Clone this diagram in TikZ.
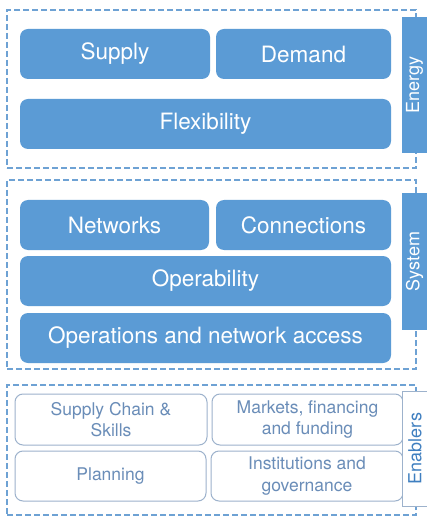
\documentclass[tikz,border=0pt]{standalone}
\usepackage{fontspec}
\setmainfont{TeX Gyre Heros}
\usetikzlibrary{shapes}

\definecolor{boxblue}{HTML}{5B9BD5}
\definecolor{dashblue}{HTML}{6EA2D4}
\definecolor{softline}{HTML}{9DB2CC}
\definecolor{softtext}{HTML}{6A8DB8}
\definecolor{tabtext}{HTML}{3F7FC0}

\begin{document}
\begin{tikzpicture}[x=1pt,y=-1pt]

\def\boxh{50pt}
\def\tabw{25pt}

\tikzstyle{frame}=[rectangle,draw=dashblue,line width=2.5pt,dash pattern=on 6pt off 3pt,inner sep=0pt]
\tikzstyle{block}=[rectangle,rounded corners=8pt,fill=boxblue,text=white,minimum height=\boxh,inner sep=0pt,font=\fontsize{22.5}{26}\selectfont]
\tikzstyle{tab}=[rectangle,fill=boxblue,text=white,rotate=90,minimum height=\tabw,inner sep=0pt,font=\fontsize{18}{21}\selectfont]
\tikzstyle{enabler}=[rectangle,rounded corners=8pt,draw=softline,line width=1pt,fill=white,text=softtext,minimum height=\boxh,inner sep=0pt,align=center,font=\fontsize{17.5}{21.5}\selectfont]
\tikzstyle{enablertab}=[tab,fill=white,draw=softline,line width=1pt,text=tabtext]

\useasboundingbox[fill=white] (0,0) rectangle (426,518);

%frames
\node[frame,minimum width=409pt,minimum height=158pt] (energyframe) at (211.5,89) {};
\node[frame,minimum width=409pt,minimum height=189pt] (systemframe) at (211.5,274.5) {};
\node[frame,minimum width=409pt,minimum height=130pt] (enablersframe) at (211.5,450) {};

%energy
\node[block,minimum width=190pt] (supply) at (115,54) {Supply};
\node[block,minimum width=175pt] (demand) at (303.5,54) {Demand};
\node[block,minimum width=371pt] (flex) at (205.5,124) {Flexibility};
\node[tab,minimum width=136pt] (energy) at (414.5,85) {Energy};

%system
\node[block,minimum width=189pt] (networks) at (114.5,225) {Networks};
\node[block,minimum width=175pt] (connections) at (303.5,225) {Connections};
\node[block,minimum width=371pt] (operability) at (205.5,281) {Operability};
\node[block,minimum width=371pt] (operations) at (205.5,338) {Operations and network access};
\node[tab,minimum width=137pt] (system) at (414.5,261.5) {System};

%enablers
\node[enabler,minimum width=192pt,minimum height=51pt] (supplychain) at (111,419.5) {Supply Chain \&\\Skills};
\node[enabler,minimum width=191pt,minimum height=51pt] (markets) at (307.5,419.5) {Markets, financing\\and funding};
\node[enabler,minimum width=191pt] (planning) at (110.5,476) {Planning};
\node[enabler,minimum width=192pt] (institutions) at (307,476) {Institutions and\\governance};
\node[enablertab,minimum width=115pt] (enablers) at (415,448.5) {Enablers};

\end{tikzpicture}
\end{document}
